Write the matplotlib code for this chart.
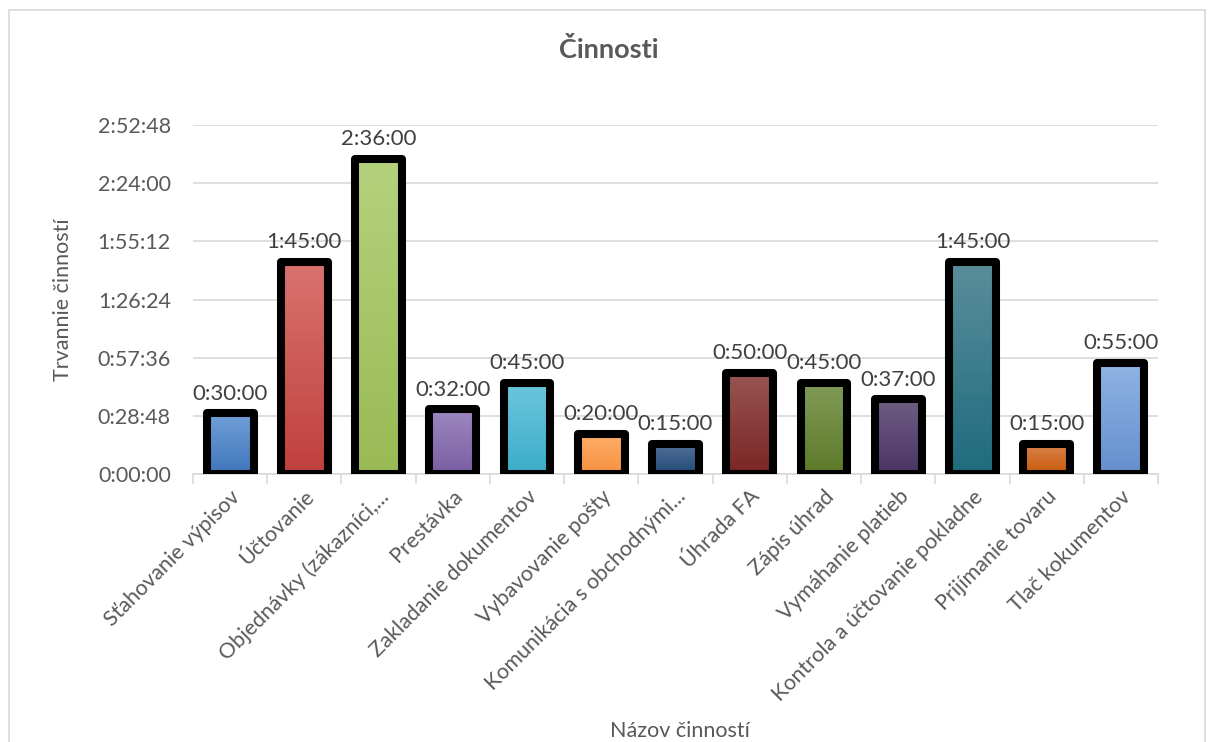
import matplotlib
matplotlib.use("Agg")
import matplotlib.pyplot as plt
import numpy as np
from matplotlib.colors import to_rgb
from matplotlib.patches import Rectangle
from matplotlib.ticker import FixedLocator, FuncFormatter

# ── data ──────────────────────────────────────────────────────────────
categories = [
    "Sťahovanie výpisov", "Účtovanie", "Objednávky (zákazníci,...",
    "Prestávka", "Zakladanie dokumentov", "Vybavovanie pošty",
    "Komunikácia s obchodnými...", "Úhrada FA", "Zápis úhrad",
    "Vymáhanie platieb", "Kontrola a účtovanie pokladne",
    "Prijímanie tovaru", "Tlač kokumentov",
]
minutes = [30, 105, 156, 32, 45, 20, 15, 50, 45, 37, 105, 15, 55]
value_labels = ["0:30:00", "1:45:00", "2:36:00", "0:32:00", "0:45:00", "0:20:00",
                "0:15:00", "0:50:00", "0:45:00", "0:37:00", "1:45:00", "0:15:00",
                "0:55:00"]
y_ticks = [0, 28.8, 57.6, 86.4, 115.2, 144.0, 172.8]

# (top, bottom) gradient colours per bar
bar_colors = [
    ("#729fd8", "#3f76bb"), ("#d9726f", "#c0403d"), ("#b4d27c", "#99ba55"),
    ("#9d88c0", "#7a5ea3"), ("#6cc6dd", "#3badc9"), ("#fcae6b", "#f7923f"),
    ("#52719a", "#244a77"), ("#985553", "#7a2624"), ("#819b57", "#5c7a29"),
    ("#6f5d84", "#4b3464"), ("#5a8d9a", "#1f6c7e"), ("#db8450", "#c85a09"),
    ("#8fb4e4", "#6590cd"),
]

text_col = "#595959"
grid_col = "#d9d9d9"
plt.rcParams["font.family"] = ["Lato", "DejaVu Sans"]


def hms(v, _pos=None):
    s = int(round(v * 60))
    return f"{s // 3600}:{(s % 3600) // 60:02d}:{s % 60:02d}"


fig = plt.figure(figsize=(12.08, 7.42), dpi=100)
ax = fig.add_axes([0.1598, 0.3612, 0.9586 - 0.1598, 0.8315 - 0.3612])

x = np.arange(len(categories))
bars = ax.bar(x, minutes, width=0.63, facecolor="none", edgecolor="black",
              linewidth=5.8, joinstyle="round", zorder=3)

# gradient fill clipped to each bar
for b, (top, bot) in zip(bars, bar_colors):
    x0, y0 = b.get_x(), b.get_y()
    w, h = b.get_width(), b.get_height()
    t = np.linspace(0, 1, 64)[:, None]
    grad = (1 - t) * np.array(to_rgb(top)) + t * np.array(to_rgb(bot))
    im = ax.imshow(grad[:, None, :].repeat(2, axis=1), extent=(x0, x0 + w, y0, y0 + h),
                   aspect="auto", origin="upper", zorder=2)
    im.set_clip_path(b)

for xi, v, lab in zip(x, minutes, value_labels):
    ax.annotate(lab, (xi, v), xytext=(0, 7), textcoords="offset points",
                ha="center", va="bottom", fontsize=16, color="#404040")

ax.set_xlim(-0.5, len(categories) - 0.5)
ax.set_ylim(0, 172.8)
ax.yaxis.set_major_locator(FixedLocator(y_ticks))
ax.yaxis.set_major_formatter(FuncFormatter(hms))
ax.grid(axis="y", color=grid_col, linewidth=1.2, zorder=0)
ax.set_axisbelow(True)

for side in ("top", "right", "left"):
    ax.spines[side].set_visible(False)
ax.spines["bottom"].set_color(grid_col)
ax.spines["bottom"].set_linewidth(1.2)

ax.tick_params(axis="y", length=0, labelsize=15.5, labelcolor=text_col, pad=16)
ax.set_xticks(x)
ax.set_xticklabels(categories, rotation=45, ha="right", va="top",
                   rotation_mode="anchor", fontsize=15.5, color=text_col)
ax.tick_params(axis="x", length=0, pad=9)
ax.set_xticks(np.arange(-0.5, len(categories)), minor=True)
ax.tick_params(axis="x", which="minor", length=7, width=1.2, color=grid_col)

ax.set_ylabel("Trvannie činností", fontsize=15.5, color=text_col, labelpad=18)
fig.text(0.563, 0.002, "Názov činností", ha="center", va="bottom",
         fontsize=15.5, color=text_col)
fig.text(0.504, 0.933, "Činnosti", ha="center", va="center",
         fontsize=19.5, fontweight="bold", color=text_col)

# chart frame
fig.patches.append(Rectangle((9 / 1208, -0.05), (1205 - 9) / 1208, 1.05 - 10 / 742,
                             transform=fig.transFigure, fill=False,
                             edgecolor=grid_col, linewidth=1.2))

fig.savefig("out.png", dpi=100)
